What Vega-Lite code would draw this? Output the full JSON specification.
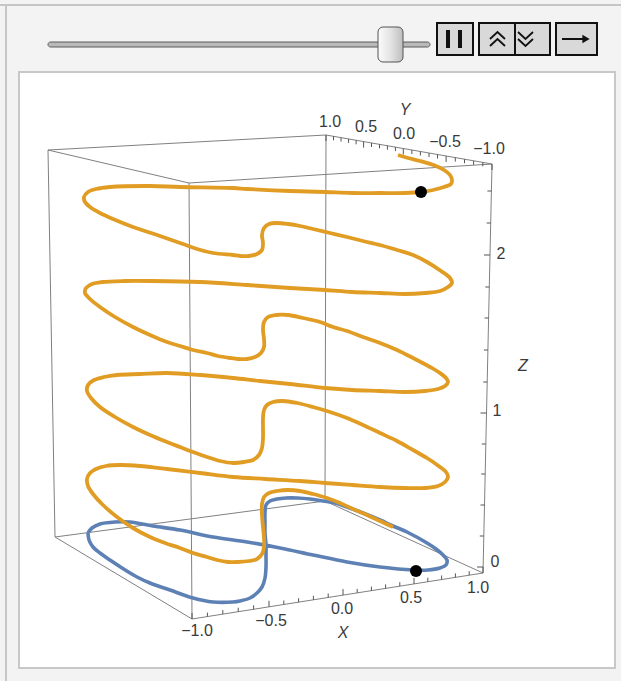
{
  "$schema": "https://vega.github.io/schema/vega-lite/v6.json",
  "width": 621,
  "height": 681,
  "padding": 0,
  "autosize": {"type": "none"},
  "background": "#f3f3f3",
  "config": {"view": {"stroke": null}},
  "datasets": {
    "ui": [
      {"k": "panel", "x": 19, "x2": 615, "y": 72, "y2": 668},
      {"k": "track", "x": 48, "x2": 430, "y": 42, "y2": 47},
      {"k": "thumb", "x": 378, "x2": 403, "y": 27, "y2": 62},
      {"k": "btn", "x": 437, "x2": 473, "y": 23, "y2": 55},
      {"k": "btn", "x": 479, "x2": 550, "y": 23, "y2": 55},
      {"k": "btn", "x": 556, "x2": 597, "y": 23, "y2": 55},
      {"k": "bar", "x": 446, "x2": 450, "y": 30, "y2": 48},
      {"k": "bar", "x": 458, "x2": 462, "y": 30, "y2": 48}
    ],
    "frame": [
      {"x": 0, "y": 5, "x2": 621, "y2": 5},
      {"x": 6, "y": 5, "x2": 6, "y2": 681}
    ],
    "btnlines": [
      {"x": 515, "y": 23, "x2": 515, "y2": 55},
      {"x": 562, "y": 39, "x2": 585, "y2": 39}
    ],
    "chev": [
      {"g": 1, "i": 1, "x": 490, "y": 39}, {"g": 1, "i": 2, "x": 497.5, "y": 32}, {"g": 1, "i": 3, "x": 505, "y": 39},
      {"g": 2, "i": 1, "x": 490, "y": 46}, {"g": 2, "i": 2, "x": 497.5, "y": 39}, {"g": 2, "i": 3, "x": 505, "y": 46},
      {"g": 3, "i": 1, "x": 518, "y": 32}, {"g": 3, "i": 2, "x": 525.5, "y": 39}, {"g": 3, "i": 3, "x": 533, "y": 32},
      {"g": 4, "i": 1, "x": 518, "y": 39}, {"g": 4, "i": 2, "x": 525.5, "y": 46}, {"g": 4, "i": 3, "x": 533, "y": 39}
    ],
    "arrowhead": [{"x": 586, "y": 39}],
    "edges": [
      {"x": 48, "y": 150, "x2": 189, "y2": 183},
      {"x": 48, "y": 150, "x2": 326, "y2": 135},
      {"x": 326, "y": 135, "x2": 492, "y2": 164},
      {"x": 189, "y": 183, "x2": 492, "y2": 164},
      {"x": 48, "y": 150, "x2": 55, "y2": 537},
      {"x": 189, "y": 183, "x2": 192, "y2": 619},
      {"x": 326, "y": 135, "x2": 325, "y2": 501},
      {"x": 492, "y": 164, "x2": 483, "y2": 573},
      {"x": 55, "y": 537, "x2": 192, "y2": 619},
      {"x": 192, "y": 619, "x2": 483, "y2": 573},
      {"x": 55, "y": 537, "x2": 325, "y2": 501},
      {"x": 325, "y": 501, "x2": 483, "y2": 573}
    ],
    "ticks": [
      {"x": 192, "y": 619, "x2": 192, "y2": 613},
      {"x": 207.4, "y": 616.6, "x2": 207.4, "y2": 612.6},
      {"x": 222.8, "y": 614.1, "x2": 222.8, "y2": 610.1},
      {"x": 238.2, "y": 611.7, "x2": 238.2, "y2": 607.7},
      {"x": 253.6, "y": 609.3, "x2": 253.6, "y2": 605.3},
      {"x": 269, "y": 606.8, "x2": 269, "y2": 600.8},
      {"x": 283.8, "y": 604.5, "x2": 283.8, "y2": 600.5},
      {"x": 298.6, "y": 602.2, "x2": 298.6, "y2": 598.2},
      {"x": 313.4, "y": 599.8, "x2": 313.4, "y2": 595.8},
      {"x": 328.2, "y": 597.5, "x2": 328.2, "y2": 593.5},
      {"x": 343, "y": 595.1, "x2": 343, "y2": 589.1},
      {"x": 357.2, "y": 592.9, "x2": 357.2, "y2": 588.9},
      {"x": 371.4, "y": 590.6, "x2": 371.4, "y2": 586.6},
      {"x": 385.6, "y": 588.4, "x2": 385.6, "y2": 584.4},
      {"x": 399.8, "y": 586.2, "x2": 399.8, "y2": 582.2},
      {"x": 414, "y": 583.9, "x2": 414, "y2": 577.9},
      {"x": 427.8, "y": 581.7, "x2": 427.8, "y2": 577.7},
      {"x": 441.6, "y": 579.5, "x2": 441.6, "y2": 575.5},
      {"x": 455.4, "y": 577.4, "x2": 455.4, "y2": 573.4},
      {"x": 469.2, "y": 575.2, "x2": 469.2, "y2": 571.2},
      {"x": 483, "y": 573, "x2": 483, "y2": 567},
      {"x": 326, "y": 135, "x2": 326, "y2": 141},
      {"x": 333.5, "y": 136.3, "x2": 333.5, "y2": 140.3},
      {"x": 341, "y": 137.6, "x2": 341, "y2": 141.6},
      {"x": 348.6, "y": 138.9, "x2": 348.6, "y2": 142.9},
      {"x": 356.1, "y": 140.3, "x2": 356.1, "y2": 144.3},
      {"x": 363.6, "y": 141.6, "x2": 363.6, "y2": 147.6},
      {"x": 371.5, "y": 143, "x2": 371.5, "y2": 147},
      {"x": 379.5, "y": 144.3, "x2": 379.5, "y2": 148.3},
      {"x": 387.4, "y": 145.7, "x2": 387.4, "y2": 149.7},
      {"x": 395.4, "y": 147.1, "x2": 395.4, "y2": 151.1},
      {"x": 403.3, "y": 148.5, "x2": 403.3, "y2": 154.5},
      {"x": 411.9, "y": 150, "x2": 411.9, "y2": 154},
      {"x": 420.4, "y": 151.5, "x2": 420.4, "y2": 155.5},
      {"x": 429, "y": 153, "x2": 429, "y2": 157},
      {"x": 437.5, "y": 154.5, "x2": 437.5, "y2": 158.5},
      {"x": 446.1, "y": 156, "x2": 446.1, "y2": 162},
      {"x": 455.3, "y": 157.6, "x2": 455.3, "y2": 161.6},
      {"x": 464.5, "y": 159.2, "x2": 464.5, "y2": 163.2},
      {"x": 473.6, "y": 160.8, "x2": 473.6, "y2": 164.8},
      {"x": 482.8, "y": 162.4, "x2": 482.8, "y2": 166.4},
      {"x": 492, "y": 164, "x2": 492, "y2": 170},
      {"x": 483.1, "y": 567, "x2": 477.1, "y2": 567},
      {"x": 483.8, "y": 536, "x2": 479.8, "y2": 536},
      {"x": 484.5, "y": 505, "x2": 480.5, "y2": 505},
      {"x": 485.2, "y": 474, "x2": 481.2, "y2": 474},
      {"x": 485.8, "y": 444, "x2": 481.8, "y2": 444},
      {"x": 486.5, "y": 413, "x2": 480.5, "y2": 413},
      {"x": 487.2, "y": 382, "x2": 483.2, "y2": 382},
      {"x": 487.9, "y": 350, "x2": 483.9, "y2": 350},
      {"x": 488.6, "y": 318, "x2": 484.6, "y2": 318},
      {"x": 489.3, "y": 287, "x2": 485.3, "y2": 287},
      {"x": 490, "y": 255, "x2": 484, "y2": 255},
      {"x": 490.7, "y": 223, "x2": 486.7, "y2": 223},
      {"x": 491.4, "y": 191, "x2": 487.4, "y2": 191}
    ],
    "ticklabels": [
      {"x": 197, "y": 631, "t": "−1.0"},
      {"x": 271, "y": 621, "t": "−0.5"},
      {"x": 342, "y": 609, "t": "0.0"},
      {"x": 411, "y": 598, "t": "0.5"},
      {"x": 478, "y": 588, "t": "1.0"},
      {"x": 330, "y": 122, "t": "1.0"},
      {"x": 366, "y": 127, "t": "0.5"},
      {"x": 404, "y": 134, "t": "0.0"},
      {"x": 445, "y": 142, "t": "−0.5"},
      {"x": 489, "y": 149, "t": "−1.0"},
      {"x": 495, "y": 562, "t": "0"},
      {"x": 497, "y": 411, "t": "1"},
      {"x": 501, "y": 254, "t": "2"}
    ],
    "titles": [
      {"x": 343, "y": 633, "t": "X"},
      {"x": 405, "y": 110, "t": "Y"},
      {"x": 523, "y": 366, "t": "Z"}
    ],
    "base": [
      {"i": 1, "x": 88, "y": 533}, {"i": 2, "x": 92, "y": 528}, {"i": 3, "x": 100, "y": 524},
      {"i": 4, "x": 115, "y": 522}, {"i": 5, "x": 130, "y": 522}, {"i": 6, "x": 153, "y": 526},
      {"i": 7, "x": 180, "y": 530}, {"i": 8, "x": 213, "y": 537}, {"i": 9, "x": 247, "y": 542},
      {"i": 10, "x": 280, "y": 548}, {"i": 11, "x": 313, "y": 555}, {"i": 12, "x": 347, "y": 562},
      {"i": 13, "x": 380, "y": 567}, {"i": 14, "x": 413, "y": 570}, {"i": 15, "x": 428, "y": 570},
      {"i": 16, "x": 440, "y": 568}, {"i": 17, "x": 446, "y": 565}, {"i": 18, "x": 447, "y": 560},
      {"i": 19, "x": 443, "y": 555}, {"i": 20, "x": 436, "y": 549}, {"i": 21, "x": 427, "y": 543},
      {"i": 22, "x": 407, "y": 532}, {"i": 23, "x": 393, "y": 526}, {"i": 24, "x": 380, "y": 520},
      {"i": 25, "x": 363, "y": 513}, {"i": 26, "x": 347, "y": 507}, {"i": 27, "x": 335, "y": 503},
      {"i": 28, "x": 323, "y": 501}, {"i": 29, "x": 310, "y": 499}, {"i": 30, "x": 297, "y": 498},
      {"i": 31, "x": 286, "y": 498}, {"i": 32, "x": 277, "y": 499}, {"i": 33, "x": 270, "y": 501},
      {"i": 34, "x": 266, "y": 505}, {"i": 35, "x": 265, "y": 513}, {"i": 36, "x": 265, "y": 523},
      {"i": 37, "x": 265, "y": 533}, {"i": 38, "x": 266, "y": 545}, {"i": 39, "x": 266, "y": 555},
      {"i": 40, "x": 266, "y": 567}, {"i": 41, "x": 265, "y": 578}, {"i": 42, "x": 262, "y": 587},
      {"i": 43, "x": 257, "y": 593}, {"i": 44, "x": 250, "y": 598}, {"i": 45, "x": 240, "y": 601},
      {"i": 46, "x": 233, "y": 602}, {"i": 47, "x": 213, "y": 602}, {"i": 48, "x": 193, "y": 598},
      {"i": 49, "x": 170, "y": 590}, {"i": 50, "x": 150, "y": 583}, {"i": 51, "x": 137, "y": 577},
      {"i": 52, "x": 122, "y": 568}, {"i": 53, "x": 110, "y": 560}, {"i": 54, "x": 100, "y": 553},
      {"i": 55, "x": 93, "y": 547}, {"i": 56, "x": 89, "y": 540}, {"i": 57, "x": 88, "y": 533}
    ],
    "path": [
      {"i": 1, "x": 393, "y": 527}, {"i": 2, "x": 380, "y": 521}, {"i": 3, "x": 367, "y": 515},
      {"i": 4, "x": 353, "y": 509}, {"i": 5, "x": 340, "y": 503}, {"i": 6, "x": 327, "y": 498},
      {"i": 7, "x": 313, "y": 494}, {"i": 8, "x": 300, "y": 491}, {"i": 9, "x": 288, "y": 490},
      {"i": 10, "x": 277, "y": 491}, {"i": 11, "x": 269, "y": 493}, {"i": 12, "x": 264, "y": 497},
      {"i": 13, "x": 262, "y": 504}, {"i": 14, "x": 262, "y": 515}, {"i": 15, "x": 263, "y": 527},
      {"i": 16, "x": 264, "y": 538}, {"i": 17, "x": 264, "y": 547}, {"i": 18, "x": 262, "y": 554},
      {"i": 19, "x": 257, "y": 559}, {"i": 20, "x": 249, "y": 561}, {"i": 21, "x": 238, "y": 562},
      {"i": 22, "x": 228, "y": 562}, {"i": 23, "x": 217, "y": 560}, {"i": 24, "x": 207, "y": 557},
      {"i": 25, "x": 193, "y": 553}, {"i": 26, "x": 180, "y": 548}, {"i": 27, "x": 165, "y": 543},
      {"i": 28, "x": 150, "y": 537}, {"i": 29, "x": 133, "y": 528}, {"i": 30, "x": 117, "y": 517},
      {"i": 31, "x": 103, "y": 505}, {"i": 32, "x": 93, "y": 494}, {"i": 33, "x": 88, "y": 486},
      {"i": 34, "x": 87, "y": 479}, {"i": 35, "x": 90, "y": 473}, {"i": 36, "x": 96, "y": 469},
      {"i": 37, "x": 106, "y": 466}, {"i": 38, "x": 120, "y": 465}, {"i": 39, "x": 140, "y": 466},
      {"i": 40, "x": 167, "y": 469}, {"i": 41, "x": 200, "y": 473}, {"i": 42, "x": 233, "y": 477},
      {"i": 43, "x": 265, "y": 479}, {"i": 44, "x": 300, "y": 481}, {"i": 45, "x": 325, "y": 483},
      {"i": 46, "x": 352, "y": 485}, {"i": 47, "x": 380, "y": 487}, {"i": 48, "x": 405, "y": 488},
      {"i": 49, "x": 425, "y": 488}, {"i": 50, "x": 438, "y": 486}, {"i": 51, "x": 445, "y": 482},
      {"i": 52, "x": 448, "y": 477}, {"i": 53, "x": 446, "y": 472}, {"i": 54, "x": 440, "y": 467},
      {"i": 55, "x": 427, "y": 458}, {"i": 56, "x": 413, "y": 450}, {"i": 57, "x": 397, "y": 441},
      {"i": 58, "x": 380, "y": 433}, {"i": 59, "x": 363, "y": 425}, {"i": 60, "x": 347, "y": 418},
      {"i": 61, "x": 330, "y": 412}, {"i": 62, "x": 313, "y": 407}, {"i": 63, "x": 297, "y": 403},
      {"i": 64, "x": 283, "y": 401}, {"i": 65, "x": 273, "y": 402}, {"i": 66, "x": 267, "y": 405},
      {"i": 67, "x": 264, "y": 410}, {"i": 68, "x": 263, "y": 418}, {"i": 69, "x": 263, "y": 428},
      {"i": 70, "x": 263, "y": 438}, {"i": 71, "x": 262, "y": 448}, {"i": 72, "x": 259, "y": 455},
      {"i": 73, "x": 253, "y": 460}, {"i": 74, "x": 244, "y": 462}, {"i": 75, "x": 233, "y": 463},
      {"i": 76, "x": 220, "y": 461}, {"i": 77, "x": 207, "y": 457}, {"i": 78, "x": 193, "y": 452},
      {"i": 79, "x": 180, "y": 447}, {"i": 80, "x": 167, "y": 442}, {"i": 81, "x": 150, "y": 435},
      {"i": 82, "x": 133, "y": 427}, {"i": 83, "x": 115, "y": 417}, {"i": 84, "x": 100, "y": 407},
      {"i": 85, "x": 91, "y": 398}, {"i": 86, "x": 87, "y": 391}, {"i": 87, "x": 88, "y": 385},
      {"i": 88, "x": 94, "y": 380}, {"i": 89, "x": 104, "y": 377}, {"i": 90, "x": 117, "y": 375},
      {"i": 91, "x": 140, "y": 374}, {"i": 92, "x": 167, "y": 373}, {"i": 93, "x": 200, "y": 375},
      {"i": 94, "x": 233, "y": 378}, {"i": 95, "x": 260, "y": 381}, {"i": 96, "x": 290, "y": 384},
      {"i": 97, "x": 325, "y": 388}, {"i": 98, "x": 352, "y": 390}, {"i": 99, "x": 380, "y": 391},
      {"i": 100, "x": 405, "y": 392}, {"i": 101, "x": 425, "y": 391}, {"i": 102, "x": 438, "y": 389},
      {"i": 103, "x": 445, "y": 386}, {"i": 104, "x": 448, "y": 382}, {"i": 105, "x": 446, "y": 378},
      {"i": 106, "x": 440, "y": 373}, {"i": 107, "x": 430, "y": 367}, {"i": 108, "x": 413, "y": 358},
      {"i": 109, "x": 397, "y": 350}, {"i": 110, "x": 380, "y": 343}, {"i": 111, "x": 363, "y": 337},
      {"i": 112, "x": 347, "y": 331}, {"i": 113, "x": 333, "y": 327}, {"i": 114, "x": 320, "y": 322},
      {"i": 115, "x": 303, "y": 318}, {"i": 116, "x": 288, "y": 315}, {"i": 117, "x": 276, "y": 315},
      {"i": 118, "x": 268, "y": 317}, {"i": 119, "x": 264, "y": 322}, {"i": 120, "x": 263, "y": 330},
      {"i": 121, "x": 264, "y": 339}, {"i": 122, "x": 264, "y": 347}, {"i": 123, "x": 261, "y": 353},
      {"i": 124, "x": 255, "y": 357}, {"i": 125, "x": 247, "y": 359}, {"i": 126, "x": 238, "y": 359},
      {"i": 127, "x": 230, "y": 358}, {"i": 128, "x": 218, "y": 356}, {"i": 129, "x": 207, "y": 353},
      {"i": 130, "x": 193, "y": 350}, {"i": 131, "x": 180, "y": 346}, {"i": 132, "x": 167, "y": 342},
      {"i": 133, "x": 150, "y": 335}, {"i": 134, "x": 133, "y": 327}, {"i": 135, "x": 115, "y": 317},
      {"i": 136, "x": 100, "y": 307}, {"i": 137, "x": 90, "y": 299}, {"i": 138, "x": 85, "y": 293},
      {"i": 139, "x": 86, "y": 288}, {"i": 140, "x": 92, "y": 284}, {"i": 141, "x": 102, "y": 282},
      {"i": 142, "x": 125, "y": 281}, {"i": 143, "x": 150, "y": 281}, {"i": 144, "x": 200, "y": 282},
      {"i": 145, "x": 247, "y": 285}, {"i": 146, "x": 290, "y": 288}, {"i": 147, "x": 325, "y": 290},
      {"i": 148, "x": 352, "y": 292}, {"i": 149, "x": 380, "y": 293}, {"i": 150, "x": 405, "y": 294},
      {"i": 151, "x": 425, "y": 293}, {"i": 152, "x": 440, "y": 291}, {"i": 153, "x": 448, "y": 287},
      {"i": 154, "x": 452, "y": 283}, {"i": 155, "x": 450, "y": 278}, {"i": 156, "x": 441, "y": 271},
      {"i": 157, "x": 427, "y": 262}, {"i": 158, "x": 413, "y": 255}, {"i": 159, "x": 397, "y": 250},
      {"i": 160, "x": 380, "y": 245}, {"i": 161, "x": 363, "y": 241}, {"i": 162, "x": 347, "y": 237},
      {"i": 163, "x": 330, "y": 233}, {"i": 164, "x": 313, "y": 229}, {"i": 165, "x": 300, "y": 226},
      {"i": 166, "x": 288, "y": 224}, {"i": 167, "x": 277, "y": 223}, {"i": 168, "x": 269, "y": 224},
      {"i": 169, "x": 264, "y": 228}, {"i": 170, "x": 262, "y": 235}, {"i": 171, "x": 263, "y": 243},
      {"i": 172, "x": 262, "y": 250}, {"i": 173, "x": 257, "y": 254}, {"i": 174, "x": 249, "y": 256},
      {"i": 175, "x": 240, "y": 256}, {"i": 176, "x": 233, "y": 255}, {"i": 177, "x": 213, "y": 253},
      {"i": 178, "x": 197, "y": 249}, {"i": 179, "x": 183, "y": 244}, {"i": 180, "x": 160, "y": 236},
      {"i": 181, "x": 133, "y": 227}, {"i": 182, "x": 113, "y": 219}, {"i": 183, "x": 100, "y": 213},
      {"i": 184, "x": 90, "y": 207}, {"i": 185, "x": 85, "y": 202}, {"i": 186, "x": 84, "y": 197},
      {"i": 187, "x": 88, "y": 192}, {"i": 188, "x": 96, "y": 189}, {"i": 189, "x": 110, "y": 187},
      {"i": 190, "x": 150, "y": 186}, {"i": 191, "x": 180, "y": 187}, {"i": 192, "x": 233, "y": 188},
      {"i": 193, "x": 247, "y": 189}, {"i": 194, "x": 290, "y": 191}, {"i": 195, "x": 325, "y": 192},
      {"i": 196, "x": 352, "y": 193}, {"i": 197, "x": 380, "y": 193}, {"i": 198, "x": 405, "y": 193},
      {"i": 199, "x": 421, "y": 192}, {"i": 200, "x": 433, "y": 190}, {"i": 201, "x": 444, "y": 187},
      {"i": 202, "x": 451, "y": 184}, {"i": 203, "x": 452, "y": 180}, {"i": 204, "x": 450, "y": 175},
      {"i": 205, "x": 444, "y": 170}, {"i": 206, "x": 436, "y": 166}, {"i": 207, "x": 420, "y": 161},
      {"i": 208, "x": 408, "y": 158}, {"i": 209, "x": 398, "y": 155}
    ],
    "dots": [{"x": 421, "y": 192}, {"x": 416, "y": 571}]
  },
  "encoding": {
    "x": {"field": "x", "type": "quantitative", "axis": null, "scale": {"domain": [0, 621], "nice": false, "zero": false}},
    "y": {"field": "y", "type": "quantitative", "axis": null, "scale": {"domain": [0, 681], "nice": false, "zero": false, "reverse": true}}
  },
  "layer": [
    {
      "data": {"name": "frame"},
      "mark": {"type": "rule", "stroke": "#c6c6c6", "strokeWidth": 2},
      "encoding": {"x2": {"field": "x2"}, "y2": {"field": "y2"}}
    },
    {
      "data": {"name": "ui"},
      "transform": [{"filter": "datum.k === 'panel'"}],
      "mark": {"type": "rect", "fill": "#ffffff", "stroke": "#c8c8c8", "strokeWidth": 2},
      "encoding": {"x2": {"field": "x2"}, "y2": {"field": "y2"}}
    },
    {
      "data": {"name": "ui"},
      "transform": [{"filter": "datum.k === 'track'"}],
      "mark": {"type": "rect", "fill": "#b9b9b9", "stroke": "#5a5a5a", "strokeWidth": 1, "cornerRadius": 2.5},
      "encoding": {"x2": {"field": "x2"}, "y2": {"field": "y2"}}
    },
    {
      "data": {"name": "ui"},
      "transform": [{"filter": "datum.k === 'thumb'"}],
      "mark": {"type": "rect", "stroke": "#555555", "strokeWidth": 1, "cornerRadius": 5,
        "fill": {"gradient": "linear", "x1": 0, "y1": 0, "x2": 1, "y2": 0,
          "stops": [{"offset": 0, "color": "#fbfbfb"}, {"offset": 0.5, "color": "#e4e4e4"}, {"offset": 1, "color": "#bdbdbd"}]}},
      "encoding": {"x2": {"field": "x2"}, "y2": {"field": "y2"}}
    },
    {
      "data": {"name": "ui"},
      "transform": [{"filter": "datum.k === 'btn'"}],
      "mark": {"type": "rect", "fill": "#d9d9d9", "stroke": "#111111", "strokeWidth": 2},
      "encoding": {"x2": {"field": "x2"}, "y2": {"field": "y2"}}
    },
    {
      "data": {"name": "ui"},
      "transform": [{"filter": "datum.k === 'bar'"}],
      "mark": {"type": "rect", "fill": "#111111"},
      "encoding": {"x2": {"field": "x2"}, "y2": {"field": "y2"}}
    },
    {
      "data": {"name": "btnlines"},
      "mark": {"type": "rule", "stroke": "#111111", "strokeWidth": 2},
      "encoding": {"x2": {"field": "x2"}, "y2": {"field": "y2"}}
    },
    {
      "data": {"name": "chev"},
      "mark": {"type": "line", "stroke": "#111111", "strokeWidth": 1.8},
      "encoding": {"detail": {"field": "g", "type": "nominal"}, "order": {"field": "i", "type": "quantitative"}}
    },
    {
      "data": {"name": "arrowhead"},
      "mark": {"type": "point", "shape": "triangle-right", "filled": true, "fill": "#111111", "size": 70, "opacity": 1},
      "encoding": {}
    },
    {
      "data": {"name": "edges"},
      "mark": {"type": "rule", "stroke": "#808080", "strokeWidth": 1},
      "encoding": {"x2": {"field": "x2"}, "y2": {"field": "y2"}}
    },
    {
      "data": {"name": "ticks"},
      "mark": {"type": "rule", "stroke": "#555555", "strokeWidth": 1},
      "encoding": {"x2": {"field": "x2"}, "y2": {"field": "y2"}}
    },
    {
      "data": {"name": "ticklabels"},
      "mark": {"type": "text", "font": "Liberation Sans", "fontSize": 16, "fill": "#3a3a3a", "align": "center", "baseline": "middle"},
      "encoding": {"text": {"field": "t"}}
    },
    {
      "data": {"name": "titles"},
      "mark": {"type": "text", "font": "Liberation Sans", "fontSize": 16, "fontStyle": "italic", "fill": "#3a3a3a", "align": "center", "baseline": "middle"},
      "encoding": {"text": {"field": "t"}}
    },
    {
      "data": {"name": "base"},
      "mark": {"type": "line", "stroke": "#5e81b5", "strokeWidth": 3.6, "interpolate": "catmull-rom"},
      "encoding": {"order": {"field": "i", "type": "quantitative"}}
    },
    {
      "data": {"name": "path"},
      "mark": {"type": "line", "stroke": "#e19c24", "strokeWidth": 3.8, "interpolate": "catmull-rom"},
      "encoding": {"order": {"field": "i", "type": "quantitative"}}
    },
    {
      "data": {"name": "dots"},
      "mark": {"type": "point", "shape": "circle", "filled": true, "fill": "#000000", "size": 144, "opacity": 1},
      "encoding": {}
    }
  ]
}
